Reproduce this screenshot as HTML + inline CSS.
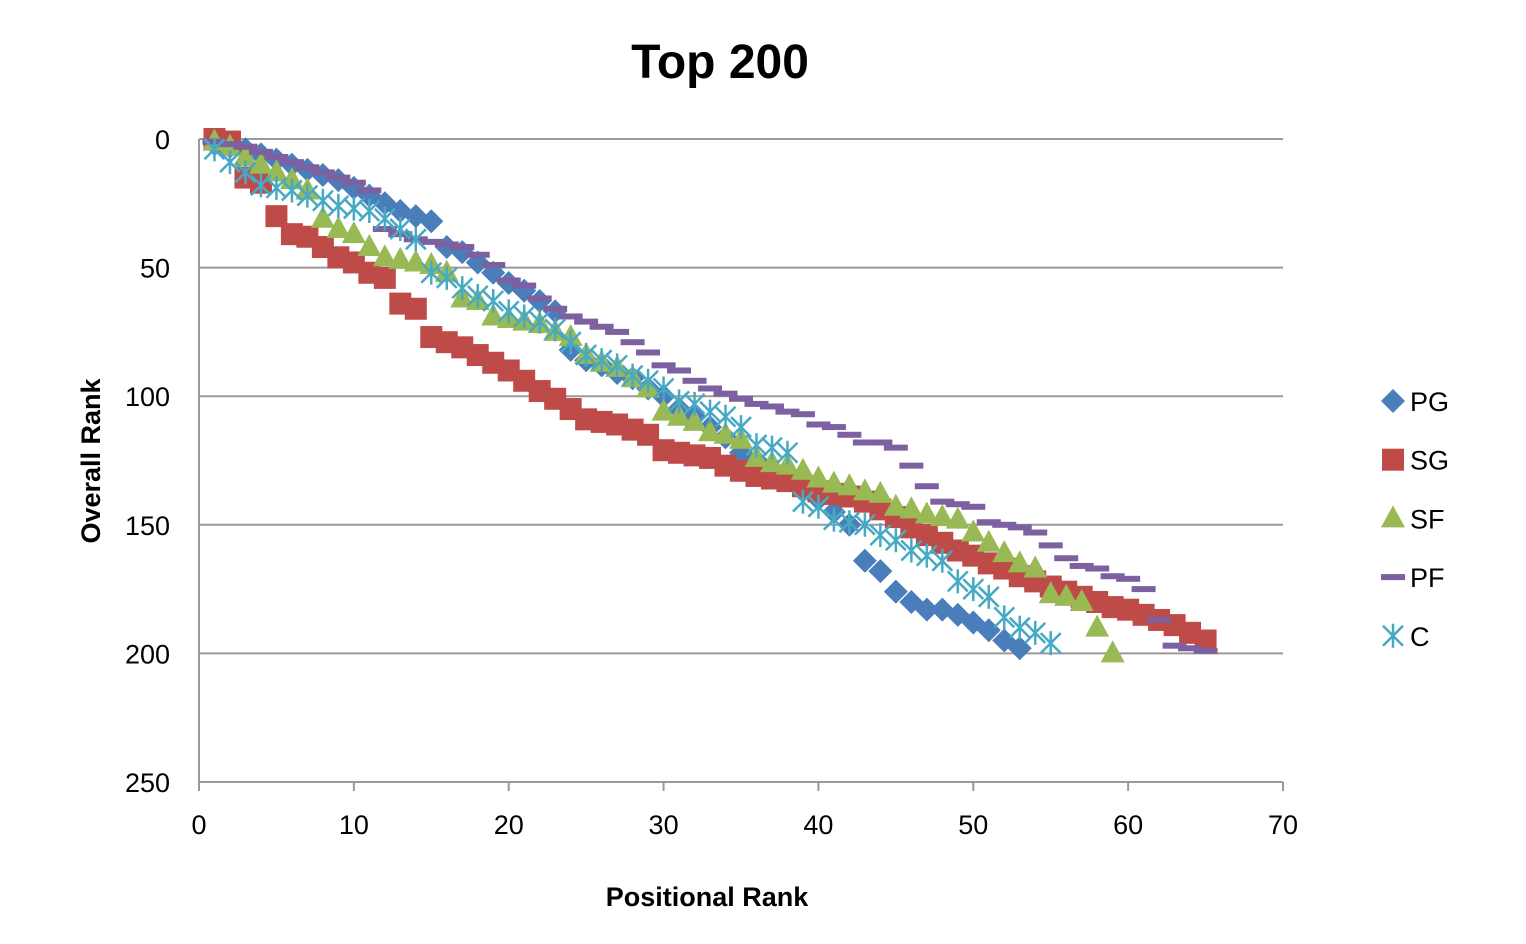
<!DOCTYPE html>
<html><head><meta charset="utf-8"><style>
body{margin:0;background:#fff;}
svg{display:block;font-family:"Liberation Sans",sans-serif;}
</style></head><body>
<svg id="chart" width="1526" height="944">
<text x="720" y="78" text-anchor="middle" font-size="48" font-weight="bold">Top 200</text>
<g id="grid"></g><g id="marks"></g><g id="legend"></g>
<text x="707" y="906" text-anchor="middle" font-size="27" font-weight="bold">Positional Rank</text>
<text transform="translate(100,461) rotate(-90)" text-anchor="middle" font-size="27" font-weight="bold">Overall Rank</text>
</svg>
<script>
const xTicks=[0,10,20,30,40,50,60,70];
const yTicks=[0,50,100,150,200,250];
const seriesNames=["PG","SG","SF","PF","C"];
const pg=[2,3,4,6,8,10,12,14,16,19,22,25,28,30,32,42,44,48,52,56,59,63,67,82,86,88,91,93,97,100,105,108,112,116,122,125,128,132,136,140,145,150,164,168,176,180,183,183,185,188,191,195,198];
const sg=[0,1,15,17,30,37,38,42,46,48,52,54,64,66,77,79,81,84,87,90,94,98,101,105,109,110,111,113,115,121,122,123,124,127,129,131,132,133,135,137,138,139,141,144,147,151,154,157,160,162,165,167,170,172,174,176,178,180,182,183,185,187,189,192,195];
const sf=[1,3,7,10,13,16,20,31,35,37,42,46,47,48,49,52,62,63,69,70,71,72,75,77,84,87,89,93,97,106,108,110,114,115,117,124,126,127,129,132,134,135,137,138,143,144,146,147,148,153,157,161,165,167,177,178,180,190,200];
const pf=[1,2,3,5,7,9,11,13,15,17,20,35,37,39,40,41,42,45,49,55,57,62,66,69,71,73,75,79,83,88,90,94,97,99,101,103,104,106,107,111,112,115,118,118,120,127,135,141,142,143,149,150,151,153,158,163,166,167,170,171,175,187,197,198,199];
const c=[4,9,13,18,19,20,22,24,26,27,28,31,35,39,52,54,58,61,63,67,69,71,74,79,84,86,88,92,94,97,102,103,106,108,112,119,120,122,141,143,148,149,150,154,156,160,162,164,172,175,178,186,190,192,196];
const colors=["#4a7ebb","#be4b48","#98b954","#7d60a0","#46aac5"];
const NS="http://www.w3.org/2000/svg";
const X=v=>199+v*(1283-199)/70;
const Y=v=>139+v*(782-139)/250;
function mk(tag,attrs,parent){const e=document.createElementNS(NS,tag);for(const k in attrs)e.setAttribute(k,attrs[k]);parent.appendChild(e);return e;}
const grid=document.getElementById('grid');
yTicks.forEach(t=>{
 if(t<250){const l=mk('line',{x1:199,x2:1283,y1:Y(t),y2:Y(t),stroke:'#9a9a9a','stroke-width':2},grid);
 
 }
 const tx=mk('text',{x:170,y:Y(t)+10,'text-anchor':'end','font-size':27},grid);tx.textContent=t;
 
 
});
const ax=mk('line',{x1:199,x2:1283,y1:782,y2:782,stroke:'#9a9a9a','stroke-width':2},grid);


const ay=mk('line',{x1:199,x2:199,y1:139,y2:782,stroke:'#9a9a9a','stroke-width':2},grid);


xTicks.forEach(t=>{
 mk('line',{x1:X(t),x2:X(t),y1:782,y2:791,stroke:'#9a9a9a','stroke-width':2},grid);
 const tx=mk('text',{x:X(t),y:834,'text-anchor':'middle','font-size':27},grid);tx.textContent=t;
 
 
});
function marker(i,cx,cy,parent){
 const col=colors[i];let e;
 if(i===0)e=mk('polygon',{points:`${cx},${cy-12} ${cx+12},${cy} ${cx},${cy+12} ${cx-12},${cy}`,fill:col},parent);
 else if(i===1)e=mk('rect',{x:cx-11,y:cy-11,width:22,height:22,fill:col},parent);
 else if(i===2)e=mk('polygon',{points:`${cx},${cy-13} ${cx+12},${cy+9} ${cx-12},${cy+9}`,fill:col},parent);
 else if(i===3)e=mk('rect',{x:cx-12,y:cy-3,width:24,height:6,fill:col},parent);
 else{e=mk('path',{d:`M${cx-10},${cy-10}L${cx+10},${cy+10}M${cx-10},${cy+10}L${cx+10},${cy-10}M${cx},${cy-12}L${cx},${cy+12}`,stroke:col,'stroke-width':2.5,fill:'none'},parent);}
 return e;
}
const marks=document.getElementById('marks');
[pg,sg,sf,pf,c].forEach((arr,i)=>{
 const g=mk('g',{},marks);
 
 
 arr.forEach((v,j)=>{
  const e=marker(i,X(j+1),Y(v),g);
  
  
 });
});
const legend=document.getElementById('legend');
seriesNames.forEach((n,i)=>{
 const g=mk('g',{},legend);
 
 
 const ly=401+i*58.7;
 marker(i,1393,ly,g);
 const t=mk('text',{x:1410,y:ly+10,'font-size':27},g);t.textContent=n;
});
</script>
</body></html>
